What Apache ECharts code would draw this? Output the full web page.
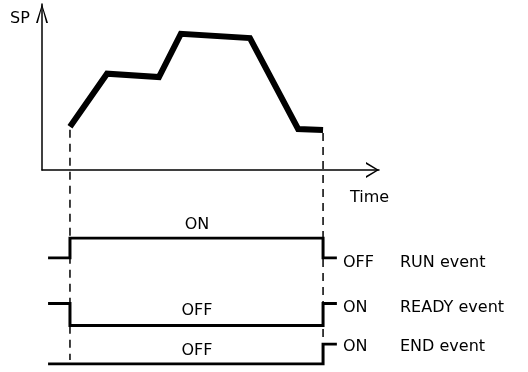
<!DOCTYPE html>
<html><head><meta charset="utf-8">
<script src="https://cdn.jsdelivr.net/npm/echarts@6/dist/echarts.min.js"></script>
<style>html,body{margin:0;padding:0;background:#fff}#c{width:528px;height:372px}</style>
</head><body><div id="c"></div>
<script>
// ---- data ----
const spTime = [8.3, 19.3, 34.7, 41.2, 61.7, 76, 83.4];
const spValue = [26, 58, 56, 82, 79.5, 24.7, 24.1];
const laneTime = [1.8, 8.3, 8.3, 83.4, 83.4, 87.5];
const runState = [0, 0, 1, 1, 0, 0];
const readyState = [1, 1, 0, 0, 1, 1];
const endTime = [1.8, 83.4, 83.4, 87.5];
const endState = [0, 0, 1, 1];
const laneNames = ['RUN event', 'READY event', 'END event'];
const endStateLabels = ['OFF', 'ON', 'ON'];
const midStateLabels = ['ON', 'OFF', 'OFF'];
const axisNames = ['SP', 'Time'];

const zip = (a, b) => a.map((v, i) => [v, b[i]]);
const FONT = '16px "DejaVu Sans"';
const BLACK = '#000';

const chart = echarts.init(document.getElementById('c'), null, {renderer: 'canvas'});

const hiddenX = i => ({type: 'value', gridIndex: i, min: 0, max: 100, show: false});
const hiddenY = i => ({type: 'value', gridIndex: i, min: 0, max: 1, show: false});

const xArrow = 'path://M8,0 L16,13 L14,13 L8,2.5 L2,13 L0,13 Z';
const yArrow = 'path://M6,0 L12,19 L10.2,19 L6,3 L1.8,19 L0,19 Z';

chart.setOption({
  animation: false,
  backgroundColor: '#fff',
  grid: [
    {left: 42, top: 4, width: 337, height: 166},
    {left: 42, top: 238, width: 337, height: 20},
    {left: 42, top: 303.5, width: 337, height: 22},
    {left: 42, top: 344, width: 337, height: 20}
  ],
  xAxis: [
    {type: 'value', gridIndex: 0, min: 0, max: 100,
     axisLine: {show: true, onZero: false, lineStyle: {color: BLACK, width: 1.5},
       symbol: ['none', xArrow], symbolSize: [16, 13], symbolOffset: [0, -6.5]},
     axisTick: {show: false}, axisLabel: {show: false}, splitLine: {show: false}},
    hiddenX(1), hiddenX(2), hiddenX(3)
  ],
  yAxis: [
    {type: 'value', gridIndex: 0, min: 0, max: 100,
     axisLine: {show: true, onZero: false, lineStyle: {color: BLACK, width: 1.5},
       symbol: ['none', yArrow], symbolSize: [12, 19], symbolOffset: [0, -9.5]},
     axisTick: {show: false}, axisLabel: {show: false}, splitLine: {show: false}},
    hiddenY(1), hiddenY(2), hiddenY(3)
  ],
  series: [
    {type: 'line', xAxisIndex: 0, yAxisIndex: 0, data: zip(spTime, spValue), symbol: 'none',
     lineStyle: {color: BLACK, width: 6, join: 'miter'}, silent: true},
    {type: 'line', xAxisIndex: 1, yAxisIndex: 1, data: zip(laneTime, runState), symbol: 'none',
     lineStyle: {color: BLACK, width: 3, join: 'miter'}, silent: true},
    {type: 'line', xAxisIndex: 2, yAxisIndex: 2, data: zip(laneTime, readyState), symbol: 'none',
     lineStyle: {color: BLACK, width: 3, join: 'miter'}, silent: true},
    {type: 'line', xAxisIndex: 3, yAxisIndex: 3, data: zip(endTime, endState), symbol: 'none',
     lineStyle: {color: BLACK, width: 3, join: 'miter'}, silent: true}
  ]
});

// dashed event markers, positioned from the library's scales
const pStart = chart.convertToPixel({gridIndex: 0}, [spTime[0], spValue[0]]);
const pEnd = chart.convertToPixel({gridIndex: 0}, [spTime[spTime.length - 1], spValue[spValue.length - 1]]);
const endOff = chart.convertToPixel({gridIndex: 3}, [spTime[0], 0]);
const endOn = chart.convertToPixel({gridIndex: 3}, [spTime[spTime.length - 1], 1]);

const txt = (text, x, y, align) => ({
  type: 'text', silent: true, z: 10,
  style: {text, x, y, font: FONT, fill: BLACK, align: align || 'left', verticalAlign: 'middle',
          textAlign: align || 'left', textVerticalAlign: 'middle'}
});
const dash = (x, y1, y2) => ({
  type: 'line', silent: true, z: 5,
  shape: {x1: x, y1: y1, x2: x, y2: y2},
  style: {stroke: BLACK, lineWidth: 1.5, lineDash: [8, 6]}
});

const rightY = [263, 308, 346.5];
const midY = [225, 311, 351];
const g = [
  dash(pStart[0], pStart[1] + 3, endOff[1] - 4),
  dash(pEnd[0], pEnd[1] + 3, endOn[1]),
  txt(axisNames[0], 10, 19),
  txt(axisNames[1], 350, 198)
];
laneNames.forEach((n, i) => {
  g.push(txt(endStateLabels[i], 343, rightY[i]));
  g.push(txt(n, 400, rightY[i]));
  g.push(txt(midStateLabels[i], 197, midY[i], 'center'));
});
chart.setOption({graphic: g});
</script></body></html>
